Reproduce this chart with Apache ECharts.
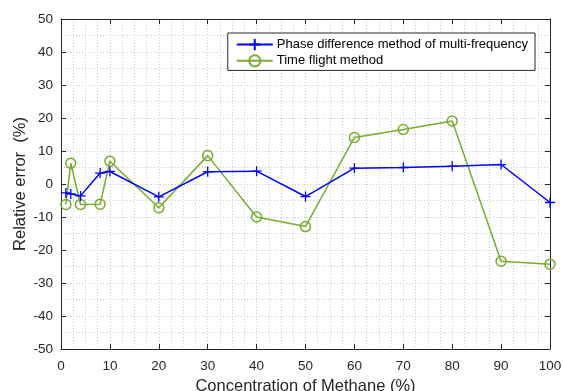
<!DOCTYPE html>
<html>
<head>
<meta charset="utf-8">
<script src="https://cdn.jsdelivr.net/npm/echarts@6/dist/echarts.min.js"></script>
<style>
  html, body { margin: 0; padding: 0; background: #fff; }
  #chart { width: 563px; height: 391px; }
</style>
</head>
<body>
<div id="chart"></div>
<script>
const phaseX = [1, 2, 4, 8, 10, 20, 30, 40, 50, 60, 70, 80, 90, 100];
const phaseY = [-2.7, -3.0, -3.6, 3.3, 3.8, -3.9, 3.7, 3.9, -3.8, 4.8, 5.0, 5.4, 5.9, -5.6];
const flightX = [1, 2, 4, 8, 10, 20, 30, 40, 50, 60, 70, 80, 90, 100];
const flightY = [-6.2, 6.3, -6.2, -6.1, 6.9, -7.2, 8.6, -10.0, -12.9, 14.1, 16.5, 19.1, -23.4, -24.3];
const seriesNames = ["Phase difference method of multi-frequency", "Time flight method"];

const font = "Liberation Sans, Arial, Helvetica, sans-serif";
const axisColor = "#262626";
const plus = "path://M5,0L5,10M0,5L10,5";

const pairs = (xs, ys) => xs.map((x, i) => [x, ys[i]]);

const gridDots = { show: true, lineStyle: { color: "#cccccc", type: [1, 2], width: 1 } };

// box axes (top / right) only carry ticks
function boxAxis(position) {
  return {
    type: "value",
    position,
    min: position === "top" ? 0 : -50,
    max: position === "top" ? 100 : 50,
    interval: 10,
    axisLine: { show: true, onZero: false, lineStyle: { color: axisColor, width: 1 } },
    axisTick: { show: true, inside: true, length: 5, lineStyle: { color: axisColor } },
    axisLabel: { show: false },
    splitLine: { show: false },
  };
}

const chart = echarts.init(document.getElementById("chart"), null, { renderer: "canvas" });

chart.setOption({
  animation: false,
  grid: { left: 61, right: 13, top: 19, bottom: 42, outerBoundsMode: "none", containLabel: false },
  legend: {
    right: 28,
    top: 33,
    orient: "vertical",
    backgroundColor: "#fff",
    borderColor: axisColor,
    borderWidth: 1,
    borderRadius: 0,
    padding: [5, 7, 3, 8],
    itemGap: 3,
    itemWidth: 36,
    itemHeight: 14,
    textStyle: { fontFamily: font, fontSize: 13, color: "#000", padding: [0, 0, 0, -1] },
    data: seriesNames,
  },
  xAxis: [
    {
      type: "value",
      min: 0,
      max: 100,
      interval: 10,
      name: "Concentration of Methane (%)",
      nameLocation: "middle",
      nameGap: 27,
      nameTextStyle: { fontFamily: font, fontSize: 16.5, color: axisColor },
      axisLine: { show: true, onZero: false, lineStyle: { color: axisColor, width: 1 } },
      axisTick: { show: true, inside: true, length: 5, lineStyle: { color: axisColor } },
      axisLabel: { fontFamily: font, fontSize: 13.5, color: axisColor, margin: 10 },
      splitLine: gridDots,
      minorTick: { show: false, splitNumber: 4 },
      minorSplitLine: gridDots,
    },
    boxAxis("top"),
  ],
  yAxis: [
    {
      type: "value",
      min: -50,
      max: 50,
      interval: 10,
      name: "Relative error  (%)",
      nameLocation: "middle",
      nameGap: 32,
      nameMoveOverlap: false,
      nameTextStyle: { fontFamily: font, fontSize: 16.5, color: axisColor },
      axisLine: { show: true, onZero: false, lineStyle: { color: axisColor, width: 1 } },
      axisTick: { show: true, inside: true, length: 5, lineStyle: { color: axisColor } },
      axisLabel: { fontFamily: font, fontSize: 13.5, color: axisColor, margin: 8 },
      splitLine: gridDots,
      minorTick: { show: false, splitNumber: 2 },
      minorSplitLine: gridDots,
    },
    boxAxis("right"),
  ],
  series: [
    {
      name: seriesNames[0],
      type: "line",
      data: pairs(phaseX, phaseY),
      symbol: plus,
      symbolSize: 10,
      showAllSymbol: true,
      lineStyle: { color: "#0000ff", width: 1.5 },
      itemStyle: { color: "#0000ff", borderColor: "#0000ff", borderWidth: 1.3 },
      z: 3,
    },
    {
      name: seriesNames[1],
      type: "line",
      data: pairs(flightX, flightY),
      symbol: "circle",
      symbolSize: 10,
      showAllSymbol: true,
      lineStyle: { color: "#77ac30", width: 1.5 },
      itemStyle: { color: "rgba(0,0,0,0)", borderColor: "#77ac30", borderWidth: 1.5 },
      z: 2,
    },
  ],
});
</script>
</body>
</html>
